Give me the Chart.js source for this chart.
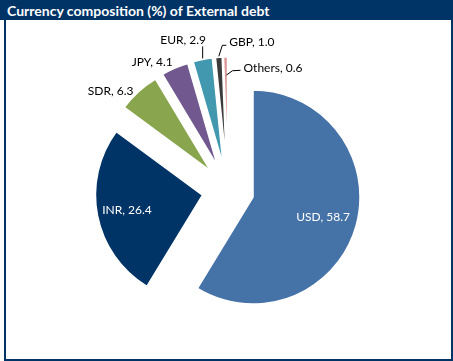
<!DOCTYPE html>
<html>
<head>
<meta charset="utf-8">
<script src="https://cdn.jsdelivr.net/npm/chart.js@4.4.1/dist/chart.umd.min.js"></script>
<style>
  body { margin: 0; background: #fff; }
  #wrap { position: relative; width: 453px; height: 361px; overflow: hidden; }
  #frame {
    position: absolute; left: 4px; top: 0; width: 449px; height: 361px;
    box-sizing: border-box; border: 2px solid #003366; border-top: none;
  }
  #title {
    position: absolute; left: 0; top: 0; width: 453px; height: 20px;
    background: #003366; color: #fff;
    font: bold 14px Lato, sans-serif; line-height: 21px;
    padding-left: 7px; box-sizing: border-box; white-space: nowrap;
  }
  canvas { position: absolute; left: 0; top: 0; }
</style>
</head>
<body>
<div id="wrap">
  <div id="frame"></div>
  <div id="title">Currency composition (%) of External debt</div>
  <canvas id="chart" width="453" height="361"></canvas>
</div>
<script>
// data
const currencies = ["USD", "INR", "SDR", "JPY", "EUR", "GBP", "Others"]
const shares = [58.7, 26.4, 6.3, 4.1, 2.9, 1.0, 0.6]
const colors = ["#4572A7", "#003366", "#89A54E", "#71588F", "#4198AF", "#3B3B3B", "#D99694"]

// every slice is pulled out of the pie by the same distance
const EXPLODE = 26
const RADIUS = 107

// label placement: inside labels sit along the slice middle,
// outside ones are placed relative to the slice's outer edge point
const labelLayout = [
  { inside: true, r: 0.68 },
  { inside: true, r: 0.72 },
  { dx: -5, dy: -1, align: "right" },
  { dx: -2, dy: -6, align: "right" },
  { dx: -19.5, dy: -19.5, align: "center", leader: [[0, -1], [0, -13]] },
  { dx: 10.5, dy: -15.5, align: "left", leader: [[0, -1], [3.5, -12], [7.5, -12]] },
  { dx: 18, dy: 11.5, align: "left", leader: [[1, 18], [7, 13.7], [15, 13.3]], edge: "end" }
]

const explodePlugin = {
  id: "explode",
  beforeDatasetDraw(chart, args) {
    const ctx = chart.ctx
    args.meta.data.forEach(arc => {
      const mid = (arc.startAngle + arc.endAngle) / 2
      ctx.save()
      ctx.translate(Math.cos(mid) * EXPLODE, Math.sin(mid) * EXPLODE)
      arc.draw(ctx)
      ctx.restore()
    })
    return false
  }
}

const labelPlugin = {
  id: "sliceLabels",
  afterDatasetsDraw(chart) {
    const ctx = chart.ctx
    const arcs = chart.getDatasetMeta(0).data
    ctx.save()
    ctx.font = "12px Lato, sans-serif"
    ctx.textBaseline = "middle"
    arcs.forEach((arc, i) => {
      const lay = labelLayout[i]
      const mid = (arc.startAngle + arc.endAngle) / 2
      const cx = arc.x + Math.cos(mid) * EXPLODE
      const cy = arc.y + Math.sin(mid) * EXPLODE
      const text = currencies[i] + ", " + shares[i].toFixed(1)
      if (lay.inside) {
        const r = arc.outerRadius * lay.r
        ctx.fillStyle = "#ffffff"
        ctx.textAlign = "center"
        ctx.fillText(text, cx + Math.cos(mid) * r, cy + Math.sin(mid) * r)
        return
      }
      const px = cx + Math.cos(mid) * arc.outerRadius
      const py = cy + Math.sin(mid) * arc.outerRadius
      if (lay.leader) {
        ctx.strokeStyle = "#000000"
        ctx.lineWidth = 1
        ctx.beginPath()
        lay.leader.forEach((p, k) => {
          if (k === 0) ctx.moveTo(px + p[0], py + p[1])
          else ctx.lineTo(px + p[0], py + p[1])
        })
        ctx.stroke()
      }
      ctx.fillStyle = "#000000"
      ctx.textAlign = lay.align
      ctx.fillText(text, px + lay.dx, py + lay.dy)
    })
    ctx.restore()
  }
}

const ctx = document.getElementById("chart").getContext("2d")
new Chart(ctx, {
  type: "pie",
  data: {
    labels: currencies,
    datasets: [
      {
        data: shares,
        backgroundColor: colors,
        borderColor: "#ffffff",
        borderWidth: 1.5
      }
    ]
  },
  options: {
    responsive: false,
    animation: false,
    devicePixelRatio: 1,
    radius: RADIUS,
    layout: {
      padding: { left: 23, right: 20, top: 39, bottom: 20 }
    },
    plugins: {
      legend: { display: false },
      tooltip: { enabled: false }
    }
  },
  plugins: [explodePlugin, labelPlugin]
})
</script>
</body>
</html>
